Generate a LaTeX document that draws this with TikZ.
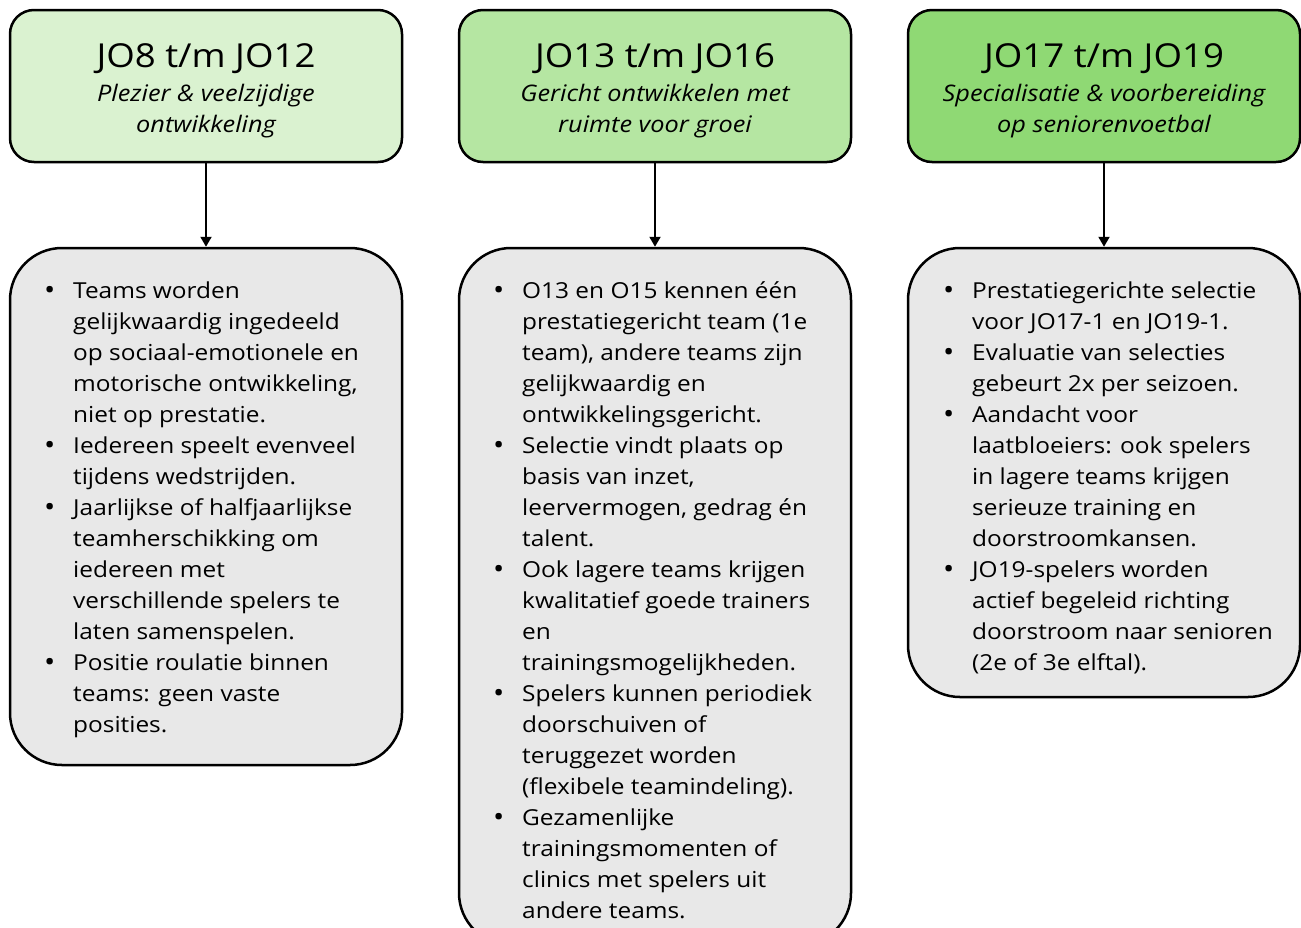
\documentclass[tikz,border=0pt]{standalone}
\usepackage{fontspec}
\setmainfont{Open Sans}[FakeStretch=1.11]
\usetikzlibrary{arrows.meta}
\definecolor{gA}{HTML}{DAF2D0}
\definecolor{gB}{HTML}{B5E6A2}
\definecolor{gC}{HTML}{8FD974}
\definecolor{grayfill}{HTML}{E8E8E8}
\newcommand{\bitem}[1]{\par\hangindent=29pt\hangafter=1\noindent\makebox[29pt][l]{\raisebox{-1pt}{\fontsize{27}{31}\selectfont\textbullet}}#1}
\newcommand{\mytitle}[2]{\begin{minipage}{380pt}\centering{\fontsize{33}{36}\selectfont #1\par}\vspace{3pt}{\fontsize{22.8}{31}\selectfont\itshape #2\par}\end{minipage}}
\tikzset{
  topbox/.style={draw=black, line width=2.5pt, rounded corners=24pt, minimum width=392pt, minimum height=152pt, inner sep=0pt},
  botbox/.style={draw=black, line width=2.5pt, fill=grayfill, rounded corners=52pt, minimum width=392pt, inner sep=0pt},
  bultext/.style={anchor=base west, inner sep=0pt, font=\fontsize{22}{31}\selectfont},
  conn/.style={line width=2pt, -{Triangle[width=11pt,length=10pt]}}
}
\begin{document}
\begin{tikzpicture}[x=1pt,y=-1pt]
\clip (0,0) rectangle (1301,927);
\fill[white] (0,0) rectangle (1301,927);
% top boxes
\node[topbox, fill=gA] (t1) at (206,86) {};
\node[topbox, fill=gB] (t2) at (655,86) {};
\node[topbox, fill=gC] (t3) at (1104,86) {};
\node[inner sep=0pt] (h1) at (206,90.5) {\mytitle{JO8 t/m JO12}{Plezier \& veelzijdige\\ontwikkeling}};
\node[inner sep=0pt] (h2) at (655,90.5) {\mytitle{JO13 t/m JO16}{Gericht ontwikkelen met\\ruimte voor groei}};
\node[inner sep=0pt] (h3) at (1104,90.5) {\mytitle{JO17 t/m JO19}{Specialisatie \& voorbereiding\\op seniorenvoetbal}};
% bottom boxes
\node[botbox, minimum height=517pt] (b1) at (206,506.5) {};
\node[botbox, minimum height=697pt] (b2) at (655,596.5) {};
\node[botbox, minimum height=449pt] (b3) at (1104,472.5) {};
% connectors
\draw[conn] (t1.south) -- (b1.north);
\draw[conn] (t2.south) -- (b2.north);
\draw[conn] (t3.south) -- (b3.north);
% texts
\node[bultext] (x1) at (44,298) {\begin{minipage}[t]{355pt}
\bitem{Teams worden\\gelijkwaardig ingedeeld\\op sociaal-emotionele en\\motorische ontwikkeling,\\niet op prestatie.}
\bitem{Iedereen speelt evenveel\\tijdens wedstrijden.}
\bitem{Jaarlijkse of halfjaarlijkse\\teamherschikking om\\iedereen met\\verschillende spelers te\\laten samenspelen.}
\bitem{Positie roulatie binnen\\teams: geen vaste\\posities.}
\end{minipage}};
\node[bultext] (x2) at (493,298) {\begin{minipage}[t]{355pt}
\bitem{O13 en O15 kennen één\\prestatiegericht team (1e\\team), andere teams zijn\\gelijkwaardig en\\ontwikkelingsgericht.}
\bitem{Selectie vindt plaats op\\basis van inzet,\\leervermogen, gedrag én\\talent.}
\bitem{Ook lagere teams krijgen\\kwalitatief goede trainers\\en\\trainingsmogelijkheden.}
\bitem{Spelers kunnen periodiek\\doorschuiven of\\teruggezet worden\\(flexibele teamindeling).}
\bitem{Gezamenlijke\\trainingsmomenten of\\clinics met spelers uit\\andere teams.}
\end{minipage}};
\node[bultext] (x3) at (943,298) {\begin{minipage}[t]{355pt}
\bitem{Prestatiegerichte selectie\\voor JO17-1 en JO19-1.}
\bitem{Evaluatie van selecties\\gebeurt 2x per seizoen.}
\bitem{Aandacht voor\\laatbloeiers: ook spelers\\in lagere teams krijgen\\serieuze training en\\doorstroomkansen.}
\bitem{JO19-spelers worden\\actief begeleid richting\\doorstroom naar senioren\\(2e of 3e elftal).}
\end{minipage}};
\end{tikzpicture}
\end{document}
